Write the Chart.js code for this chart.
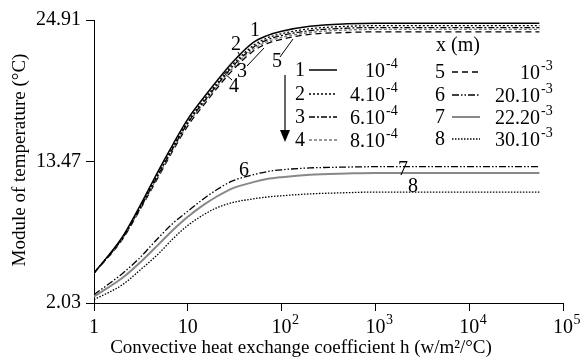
<!DOCTYPE html>
<html>
<head>
<meta charset="utf-8">
<script src="https://cdn.jsdelivr.net/npm/chart.js@4/dist/chart.umd.min.js"></script>
<style>
html, body { margin: 0; padding: 0; background: #fff; }
#wrap { width: 581px; height: 362px; }
</style>
</head>
<body>
<div id="wrap"><canvas id="chart" width="581" height="362"></canvas></div>
<script>
// h (w/m²/°C)
const hValues = [1, 2, 3, 5, 7, 10, 15, 20, 30, 50, 70, 100, 200, 500, 1000, 5000, 20000, 56000]

// module of temperature (°C) for each depth x
const curve1 = [4.45, 7.35, 9.7, 12.9, 14.9, 16.9, 18.7, 19.9, 21.5, 23.1, 23.65, 24.0, 24.4, 24.6, 24.65, 24.65, 24.65, 24.65]
const curve2 = [4.45, 7.3, 9.6, 12.7, 14.7, 16.7, 18.5, 19.7, 21.3, 22.85, 23.45, 23.8, 24.2, 24.4, 24.45, 24.45, 24.45, 24.45]
const curve3 = [4.45, 7.25, 9.5, 12.6, 14.6, 16.6, 18.35, 19.55, 21.15, 22.7, 23.3, 23.65, 24.05, 24.25, 24.3, 24.3, 24.3, 24.3]
const curve4 = [4.45, 7.2, 9.45, 12.5, 14.5, 16.5, 18.25, 19.45, 21.0, 22.55, 23.15, 23.5, 23.9, 24.1, 24.15, 24.15, 24.15, 24.15]
const curve5 = [4.45, 7.15, 9.4, 12.4, 14.4, 16.35, 18.1, 19.3, 20.85, 22.4, 23.0, 23.35, 23.75, 23.9, 23.95, 23.95, 23.95, 23.95]
const curve6 = [2.7, 4.4, 5.6, 7.4, 8.5, 9.45, 10.5, 11.15, 11.9, 12.4, 12.65, 12.8, 12.95, 13.02, 13.05, 13.05, 13.05, 13.05]
const curve7 = [2.55, 4.05, 5.2, 6.85, 7.95, 9.0, 10.0, 10.6, 11.3, 11.8, 12.05, 12.2, 12.4, 12.5, 12.55, 12.55, 12.55, 12.55]
const curve8 = [2.3, 3.5, 4.6, 6.1, 7.25, 8.3, 9.2, 9.7, 10.15, 10.45, 10.6, 10.7, 10.85, 10.95, 11.0, 11.0, 11.0, 11.0]

const xTicks = [1, 10, 100, 1000, 10000, 100000]
const yTicks = [2.03, 13.47, 24.91]

// legend: curve number, depth x (m) as base and exponent
const curveNums = ['1', '2', '3', '4', '5', '6', '7', '8']
const depthBase = ['10', '4.10', '6.10', '8.10', '10', '20.10', '22.20', '30.10']
const depthExp = ['-4', '-4', '-4', '-4', '-3', '-3', '-3', '-3']

const series = [curve1, curve2, curve3, curve4, curve5, curve6, curve7, curve8]

const lineStyles = [
    { color: '#000', width: 1.5, dash: [] },
    { color: '#000', width: 1.3, dash: [2, 2] },
    { color: '#000', width: 1.3, dash: [6, 2, 2, 2] },
    { color: '#777', width: 1.3, dash: [3, 2] },
    { color: '#000', width: 1.3, dash: [6, 4] },
    { color: '#000', width: 1.3, dash: [7, 2, 1.5, 2, 1.5, 2] },
    { color: '#888', width: 2, dash: [] },
    { color: '#000', width: 1.3, dash: [1.5, 1.5] },
]

const FONT = '"Liberation Serif", "Times New Roman", serif'

const decor = {
    id: 'decor',
    afterDraw(chart) {
        const { ctx, scales: { x } } = chart
        ctx.save()
        ctx.fillStyle = '#000'
        ctx.strokeStyle = '#000'

        // x tick labels with superscripts
        xTicks.forEach(v => {
            const px = x.getPixelForValue(v)
            const e = Math.round(Math.log10(v))
            const base = e === 0 ? '1' : '10'
            ctx.font = '20px ' + FONT
            ctx.textAlign = 'center'
            ctx.textBaseline = 'alphabetic'
            ctx.fillText(base, px, 333)
            if (e > 1) {
                const w = ctx.measureText(base).width
                ctx.font = '14px ' + FONT
                ctx.textAlign = 'left'
                ctx.fillText(String(e), px + w / 2 + 0.5, 324)
            }
        })

        // axis titles
        ctx.font = '19px ' + FONT
        ctx.textAlign = 'center'
        ctx.textBaseline = 'middle'
        ctx.fillText('Convective heat exchange coefficient h (w/m²/°C)', 301, 348)
        ctx.save()
        ctx.translate(20, 160)
        ctx.rotate(-Math.PI / 2)
        ctx.fillText('Module of temperature (°C)', 0, 0)
        ctx.restore()

        // legend
        ctx.font = '20px ' + FONT
        ctx.fillText('x (m)', 458, 46)
        const rowsY = [70, 94, 117, 140, 72, 95, 117, 139]
        curveNums.forEach((n, i) => {
            const left = i < 4
            const y = rowsY[i]
            const numX = left ? 295 : 435
            const l0 = left ? 309 : 452
            const l1 = left ? 337 : 480
            const baseRight = left ? 385 : 540
            ctx.font = '20px ' + FONT
            ctx.textAlign = 'left'
            ctx.textBaseline = 'middle'
            ctx.fillText(n, numX, y + 1)
            const st = lineStyles[i]
            ctx.save()
            ctx.strokeStyle = st.color
            ctx.lineWidth = st.width
            ctx.setLineDash(st.dash)
            ctx.beginPath()
            ctx.moveTo(l0, y)
            ctx.lineTo(l1, y)
            ctx.stroke()
            ctx.restore()
            ctx.textAlign = 'right'
            ctx.textBaseline = 'alphabetic'
            ctx.fillText(depthBase[i], baseRight, y + 7)
            ctx.font = '14px ' + FONT
            ctx.textAlign = 'left'
            ctx.fillText(depthExp[i], baseRight + 1, y - 2)
        })

        // arrow
        ctx.lineWidth = 1.2
        ctx.beginPath()
        ctx.moveTo(285, 75)
        ctx.lineTo(285, 132)
        ctx.stroke()
        ctx.beginPath()
        ctx.moveTo(280, 130)
        ctx.lineTo(290, 130)
        ctx.lineTo(285, 142)
        ctx.closePath()
        ctx.fill()

        // curve labels
        ctx.font = '20px ' + FONT
        ctx.textAlign = 'center'
        ctx.textBaseline = 'middle'
        const labels = [['1', 255, 31], ['2', 236, 45], ['3', 242, 72], ['4', 234, 87], ['5', 277, 62], ['6', 244, 171], ['7', 403, 170], ['8', 413, 187]]
        labels.forEach(([t, lx, ly]) => ctx.fillText(t, lx, ly))
        ctx.lineWidth = 1
        const leaders = [[238, 52, 240, 56], [247, 66, 264, 48], [232, 80, 224, 73], [280, 57, 293, 39]]
        leaders.forEach(([a, b, c, d]) => {
            ctx.beginPath()
            ctx.moveTo(a, b)
            ctx.lineTo(c, d)
            ctx.stroke()
        })
        ctx.restore()
    }
}

new Chart(document.getElementById('chart'), {
    type: 'line',
    data: {
        datasets: series.map((vals, i) => ({
            label: curveNums[i],
            data: hValues.map((h, j) => ({ x: h, y: vals[j] })),
            borderColor: lineStyles[i].color,
            borderWidth: lineStyles[i].width,
            borderDash: lineStyles[i].dash,
            pointRadius: 0,
            cubicInterpolationMode: 'monotone',
            fill: false,
        })),
    },
    options: {
        responsive: false,
        animation: false,
        devicePixelRatio: 1,
        layout: { padding: { top: 20, right: 18, left: 0, bottom: 0 } },
        plugins: {
            legend: { display: false },
            tooltip: { enabled: false },
        },
        scales: {
            x: {
                type: 'logarithmic',
                min: 1,
                max: 100000,
                afterBuildTicks: s => { s.ticks = xTicks.map(v => ({ value: v })) },
                afterFit: s => { s.height = 59 },
                ticks: { display: false },
                grid: { display: true, drawOnChartArea: false, drawTicks: true, tickLength: 8, color: '#000' },
                border: { display: true, color: '#000', width: 1 },
            },
            y: {
                type: 'linear',
                min: 2.03,
                max: 24.91,
                afterBuildTicks: s => { s.ticks = yTicks.map(v => ({ value: v })) },
                afterFit: s => { s.width = 94 },
                ticks: {
                    callback: v => v.toFixed(2),
                    color: '#000',
                    padding: 5,
                    font: { family: FONT, size: 20 },
                },
                grid: { display: true, drawOnChartArea: false, drawTicks: true, tickLength: 8, color: '#000' },
                border: { display: true, color: '#000', width: 1 },
            },
        },
    },
    plugins: [decor],
})
</script>
</body>
</html>
